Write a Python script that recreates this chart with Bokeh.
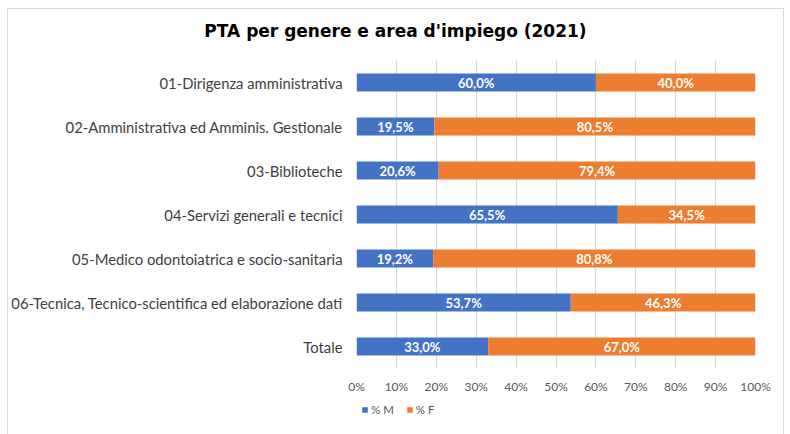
from bokeh.plotting import figure
from bokeh.models import ColumnDataSource, LabelSet, FactorRange, FixedTicker, Legend, LegendItem, Div
from bokeh.core.properties import value
from bokeh.layouts import column
from bokeh.embed import file_html
from bokeh.resources import INLINE

categories = [
    "01-Dirigenza amministrativa",
    "02-Amministrativa ed Amminis. Gestionale",
    "03-Biblioteche",
    "04-Servizi generali e tecnici",
    "05-Medico odontoiatrica e socio-sanitaria",
    "06-Tecnica, Tecnico-scientifica ed elaborazione dati",
    "Totale",
]
pct_m = [60.0, 19.5, 20.6, 65.5, 19.2, 53.7, 33.0]
pct_f = [40.0, 80.5, 79.4, 34.5, 80.8, 46.3, 67.0]
x_ticks = [0, 10, 20, 30, 40, 50, 60, 70, 80, 90, 100]
series_names = ["% M", "% F"]
title_text = "PTA per genere e area d'impiego (2021)"

BLUE = "#4472C4"
ORANGE = "#ED7D31"
GRAY = "#d9d9d9"
W = 777

def fmt(v):
    return ("%.1f%%" % v).replace(".", ",")

src = ColumnDataSource(dict(
    cat=categories,
    m=pct_m,
    f=pct_f,
    m_mid=[v / 2 for v in pct_m],
    f_mid=[a + b / 2 for a, b in zip(pct_m, pct_f)],
    m_lab=[fmt(v) for v in pct_m],
    f_lab=[fmt(v) for v in pct_f],
))

title = Div(
    text=('<div style="width:%dpx;text-align:center;font-family:\'DejaVu Sans\';'
          'font-weight:bold;font-size:17px;color:#000;padding-top:10px;">%s</div>') % (W - 2, title_text),
    width=W, height=44, margin=0,
    styles={"border-left": "1px solid " + GRAY, "border-top": "1px solid " + GRAY,
            "border-right": "1px solid " + GRAY, "box-sizing": "border-box"},
)

p = figure(
    y_range=FactorRange(*list(reversed(categories)), range_padding=0),
    x_range=(0, 100),
    width=W, height=346,
    output_backend="svg", toolbar_location=None,
    min_border_left=348, min_border_right=30, min_border_top=8, min_border_bottom=30,
    styles={"border-left": "1px solid " + GRAY, "border-right": "1px solid " + GRAY},
)

renderers = p.hbar_stack(["m", "f"], y="cat", height=0.41, color=[BLUE, ORANGE],
                         line_color=None, source=src)

for xcol, tcol in (("m_mid", "m_lab"), ("f_mid", "f_lab")):
    p.add_layout(LabelSet(x=xcol, y="cat", text=tcol, source=src, text_align="center",
                          text_baseline="middle", text_color="white", text_font=value("Lato"),
                          text_font_style="bold", text_font_size="13px"))

p.outline_line_color = None
p.ygrid.grid_line_color = None
p.xgrid.grid_line_color = GRAY
p.xgrid.grid_line_width = 1
p.xaxis.ticker = FixedTicker(ticks=x_ticks)
p.xaxis.major_label_overrides = {t: "%d%%" % t for t in x_ticks}
p.xaxis.axis_line_color = None
p.xaxis.major_tick_line_color = None
p.xaxis.minor_tick_line_color = None
p.xaxis.major_tick_out = 0
p.xaxis.major_tick_in = 0
p.xaxis.major_label_text_font = "Lato"
p.xaxis.major_label_text_font_size = "12px"
p.xaxis.major_label_text_color = "#595959"
p.xaxis.major_label_standoff = 10

p.yaxis.axis_line_color = None
p.yaxis.major_tick_line_color = None
p.yaxis.minor_tick_line_color = None
p.yaxis.major_tick_out = 0
p.yaxis.major_tick_in = 0
p.yaxis.major_label_text_font = "Lato"
p.yaxis.major_label_text_font_size = "14.8px"
p.yaxis.major_label_text_color = "#404040"
p.yaxis.major_label_standoff = 14

# legend strip (its frame is aligned with the chart frame by the column layout)
pl = figure(width=W, height=36, x_range=(0, 100),
            y_range=FactorRange(*list(reversed(categories)), range_padding=0),
            output_backend="svg", toolbar_location=None,
            x_axis_type=None, y_axis_type=None,
            min_border_left=348, min_border_right=30, min_border_top=0, min_border_bottom=0,
            styles={"border-left": "1px solid " + GRAY, "border-right": "1px solid " + GRAY})
pl.outline_line_color = None
pl.grid.grid_line_color = None
lg_r = pl.hbar_stack(["m", "f"], y="cat", height=0.41, color=[BLUE, ORANGE],
                     line_color=None, source=src, visible=False)
legend = Legend(items=[LegendItem(label=n, renderers=[r]) for n, r in zip(series_names, lg_r)],
                orientation="horizontal", location=(5, 18),
                label_text_font="Lato", label_text_font_size="11.5px",
                label_text_color="#595959", glyph_width=7, glyph_height=7,
                label_standoff=3, spacing=12, border_line_color=None,
                background_fill_alpha=0, padding=0, margin=0)
pl.add_layout(legend)

layout = column(title, p, pl, spacing=0, margin=(8, 0, 0, 7))
open("out.html", "w").write(file_html(layout, INLINE))
